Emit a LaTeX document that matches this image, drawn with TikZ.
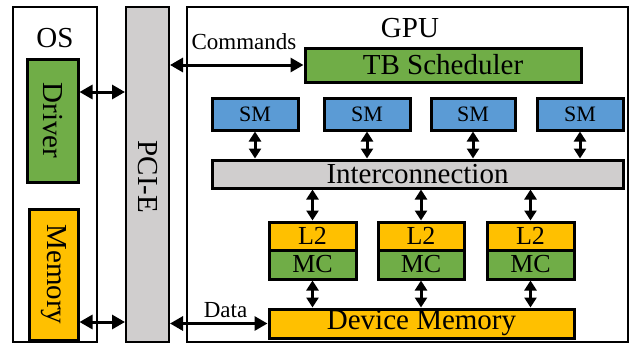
\documentclass[tikz,border=0pt]{standalone}
\usepackage{fontspec}
\setmainfont{Liberation Serif}
\usetikzlibrary{arrows.meta}

\definecolor{bgreen}{HTML}{70AD47}
\definecolor{bblue}{HTML}{5B9BD5}
\definecolor{bgold}{HTML}{FFC000}
\definecolor{bgray}{HTML}{D0CECE}

\newcommand\bigtxt{\fontsize{29}{30}\selectfont}
\newcommand\midtxt{\fontsize{26}{27}\selectfont}
\newcommand\smtxt{\fontsize{23}{24}\selectfont}

\tikzset{
  outer/.style={draw=black, line width=2pt, inner sep=0pt},
  unit/.style={draw=black, line width=3pt, inner sep=0pt, font=\bigtxt},
  smbox/.style={unit, fill=bblue, font=\fontsize{22}{23}\selectfont},
  cache/.style={unit, fill=bgold, font=\midtxt},
  ctrl/.style={unit, fill=bgreen, font=\midtxt},
  dbl/.style={line width=3pt, {Triangle[length=13pt,width=14pt]}-{Triangle[length=13pt,width=14pt]}},
  sdbl/.style={line width=3pt, {Triangle[length=10pt,width=12pt]}-{Triangle[length=10pt,width=12pt]}},
}

\begin{document}
\begin{tikzpicture}[x=1pt, y=-1pt]
\useasboundingbox (0,0) rectangle (631,343);

% host side
\node[outer, minimum width=84pt, minimum height=335pt] (os) at (55,174.5) {};
\node[font=\bigtxt, anchor=base] (oslabel) at (55,47) {OS};
\node[unit, fill=bgreen, minimum width=51pt, minimum height=123pt] (driver) at (52.5,120.5) {};
\node[font=\bigtxt, rotate=-90] (driverlabel) at (driver.center) {Driver};
\node[unit, fill=bgold, minimum width=49pt, minimum height=131pt] (hostmem) at (53.5,274.5) {};
\node[font=\bigtxt, rotate=-90] (hostmemlabel) at (hostmem.center) {Memory};

% PCI-E link
\node[outer, fill=bgray, minimum width=43pt, minimum height=335pt] (pcie) at (147.5,174.5) {};
\node[font=\bigtxt, rotate=-90] (pcielabel) at (147.5,177) {PCI-E};

% GPU
\node[outer, minimum width=441pt, minimum height=335pt] (gpu) at (407.5,174.5) {};
\node[font=\bigtxt, anchor=base] (gpulabel) at (410,37) {GPU};

\node[unit, fill=bgreen, minimum width=276pt, minimum height=34pt] (tb) at (443,65) {TB Scheduler};

\node[smbox, minimum width=86pt, minimum height=32pt] (sm1) at (255,114) {SM};
\node[smbox, minimum width=86pt, minimum height=32pt] (sm2) at (367,114) {SM};
\node[smbox, minimum width=84pt, minimum height=32pt] (sm3) at (473,114) {SM};
\node[smbox, minimum width=86pt, minimum height=32pt] (sm4) at (580,114) {SM};

\node[unit, fill=bgray, minimum width=411pt, minimum height=28pt] (ic) at (417.5,174) {Interconnection};

\node[cache, minimum width=87pt, minimum height=28pt] (l2a) at (312.5,236) {L2};
\node[ctrl, minimum width=87pt, minimum height=29pt] (mca) at (312.5,264.5) {MC};
\node[cache, minimum width=86pt, minimum height=28pt] (l2b) at (421,236) {L2};
\node[ctrl, minimum width=86pt, minimum height=29pt] (mcb) at (421,264.5) {MC};
\node[cache, minimum width=87pt, minimum height=28pt] (l2c) at (530.5,236) {L2};
\node[ctrl, minimum width=87pt, minimum height=29pt] (mcc) at (530.5,264.5) {MC};

\node[unit, fill=bgold, minimum width=305pt, minimum height=29pt] (dm) at (421.5,323.5) {Device Memory};

% host connections
\draw[dbl] ([yshift=28.5pt]driver.east) -- ([yshift=28.5pt]driver.east -| pcie.west);
\draw[dbl] ([yshift=-47.5pt]hostmem.east) -- ([yshift=-47.5pt]hostmem.east -| pcie.west);

% PCI-E to GPU
\draw[dbl] (pcie.east |- tb.west) -- (tb.west);
\node[font=\smtxt, anchor=base] (cmdlabel) at (244,49) {Commands};
\draw[dbl] (pcie.east |- dm.west) -- (dm.west);
\node[font=\smtxt, anchor=base] (datalabel) at (225.5,317) {Data};

% SMs to interconnection
\foreach \s in {sm1,sm2,sm3,sm4}
  \draw[sdbl] (\s.south) -- (\s.south |- ic.north);

% interconnection to L2, MC to device memory
\foreach \l/\m in {l2a/mca,l2b/mcb,l2c/mcc}{
  \draw[sdbl] (\l.north |- ic.south) -- (\l.north);
  \draw[sdbl] (\m.south) -- (\m.south |- dm.north);
}
\end{tikzpicture}
\end{document}
